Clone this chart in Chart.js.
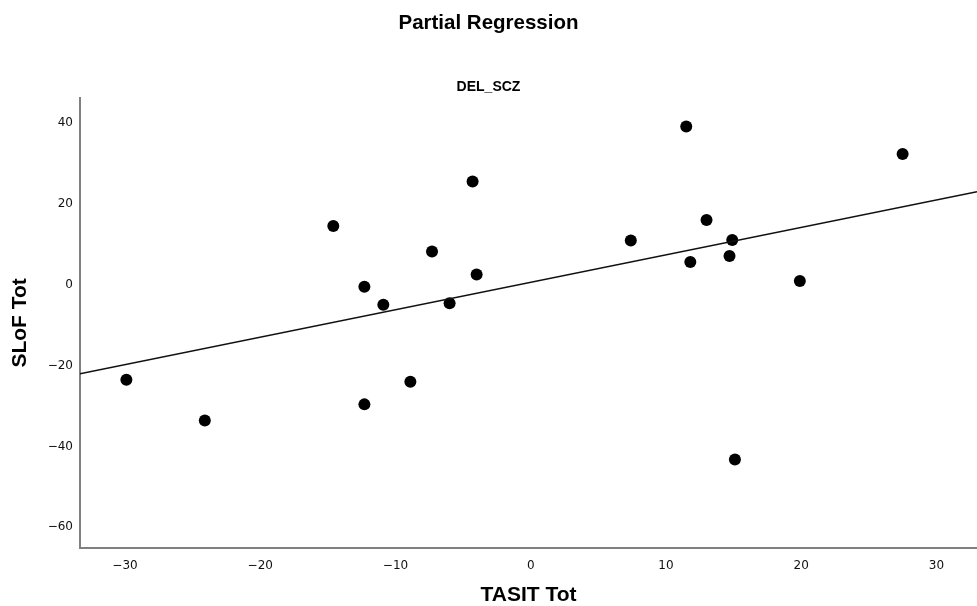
<!DOCTYPE html>
<html>
<head>
<meta charset="utf-8">
<script src="https://cdn.jsdelivr.net/npm/chart.js@4"></script>
<style>
  html, body { margin: 0; padding: 0; background: #fff; }
  #wrap { width: 977px; height: 606px; }
</style>
</head>
<body>
<div id="wrap"><canvas id="pr"></canvas></div>
<script>
// values
const tasitTot = [-29.9, -24.1, -14.6, -12.3, -12.3, -10.9, -8.9, -7.3, -6.0, -4.3,
                  -4.0, 7.4, 11.5, 11.8, 13.0, 14.7, 14.9, 15.1, 19.9, 27.5];
const slofTot = [-23.5, -33.6, 14.5, -0.5, -29.6, -5.0, -24.0, 8.2, -4.6, 25.5,
                 2.5, 10.9, 39.1, 5.6, 16.0, 7.1, 11.0, -43.2, 0.9, 32.3];
const fitX = [-33.33, 33.0];
const fitY = [-22.05, 22.96];
const xTicks = [-30, -20, -10, 0, 10, 20, 30];
const yTicks = [40, 20, 0, -20, -40, -60];

const font = "'Liberation Sans', Arial, sans-serif";
const tickFont = "'DejaVu Sans', sans-serif";
const axisGrey = '#808080';

const points = tasitTot.map((x, i) => ({ x: x, y: slofTot[i] }));
const fitLine = fitX.map((x, i) => ({ x: x, y: fitY[i] }));

// SPSS style minus sign
function minusLabel(v) {
    return v < 0 ? '\u2212' + Math.abs(v) : String(v);
}

const data = {
    datasets: [{
        type: 'line',
        data: fitLine,
        borderColor: '#111',
        borderWidth: 1.6,
        pointRadius: 0,
        fill: false
    }, {
        type: 'scatter',
        data: points,
        backgroundColor: '#000',
        borderWidth: 0,
        pointRadius: 6,
        pointHoverRadius: 6
    }]
};

var config = {
    type: 'scatter',
    data: data,
    options: {
        responsive: true,
        maintainAspectRatio: false,
        animation: false,
        layout: { padding: 0, autoPadding: false },
        plugins: {
            legend: { display: false },
            tooltip: { enabled: false },
            title: {
                display: true,
                text: 'Partial Regression',
                color: '#000',
                font: { family: font, size: 20.5, weight: 'bold', lineHeight: 1.2 },
                padding: { top: 11, bottom: 0 }
            },
            subtitle: {
                display: true,
                text: 'DEL_SCZ',
                color: '#000',
                font: { family: font, size: 14, weight: 'bold', lineHeight: 1.2 },
                padding: { top: 43, bottom: 2.3 }
            }
        },
        scales: {
            x: {
                type: 'linear',
                min: -33.33,
                max: 33.0,
                afterFit: function(scale) { scale.height = 58; },
                afterBuildTicks: function(scale) {
                    scale.ticks = xTicks.map(v => ({ value: v }));
                },
                grid: { display: false, drawTicks: false },
                border: { display: true, color: axisGrey, width: 2 },
                ticks: {
                    color: '#111',
                    padding: 11,
                    font: { family: tickFont, size: 12 },
                    callback: minusLabel
                },
                title: {
                    display: true,
                    text: 'TASIT Tot',
                    color: '#000',
                    font: { family: font, size: 21, weight: 'bold', lineHeight: 1 },
                    padding: { top: 0, bottom: 0 }
                }
            },
            y: {
                type: 'linear',
                min: -65.1,
                max: 46.2,
                afterFit: function(scale) { scale.width = 80; },
                afterBuildTicks: function(scale) {
                    scale.ticks = yTicks.map(v => ({ value: v }));
                },
                grid: { display: false, drawTicks: false },
                border: { display: true, color: axisGrey, width: 2 },
                ticks: {
                    color: '#111',
                    padding: 7,
                    font: { family: tickFont, size: 12 },
                    callback: minusLabel
                },
                title: {
                    display: true,
                    text: 'SLoF Tot',
                    color: '#000',
                    font: { family: font, size: 21, weight: 'bold', lineHeight: 1 },
                    padding: { top: 10, bottom: 0 }
                }
            }
        }
    }
};

const chartPR = new Chart(document.getElementById('pr'), config);
</script>
</body>
</html>
